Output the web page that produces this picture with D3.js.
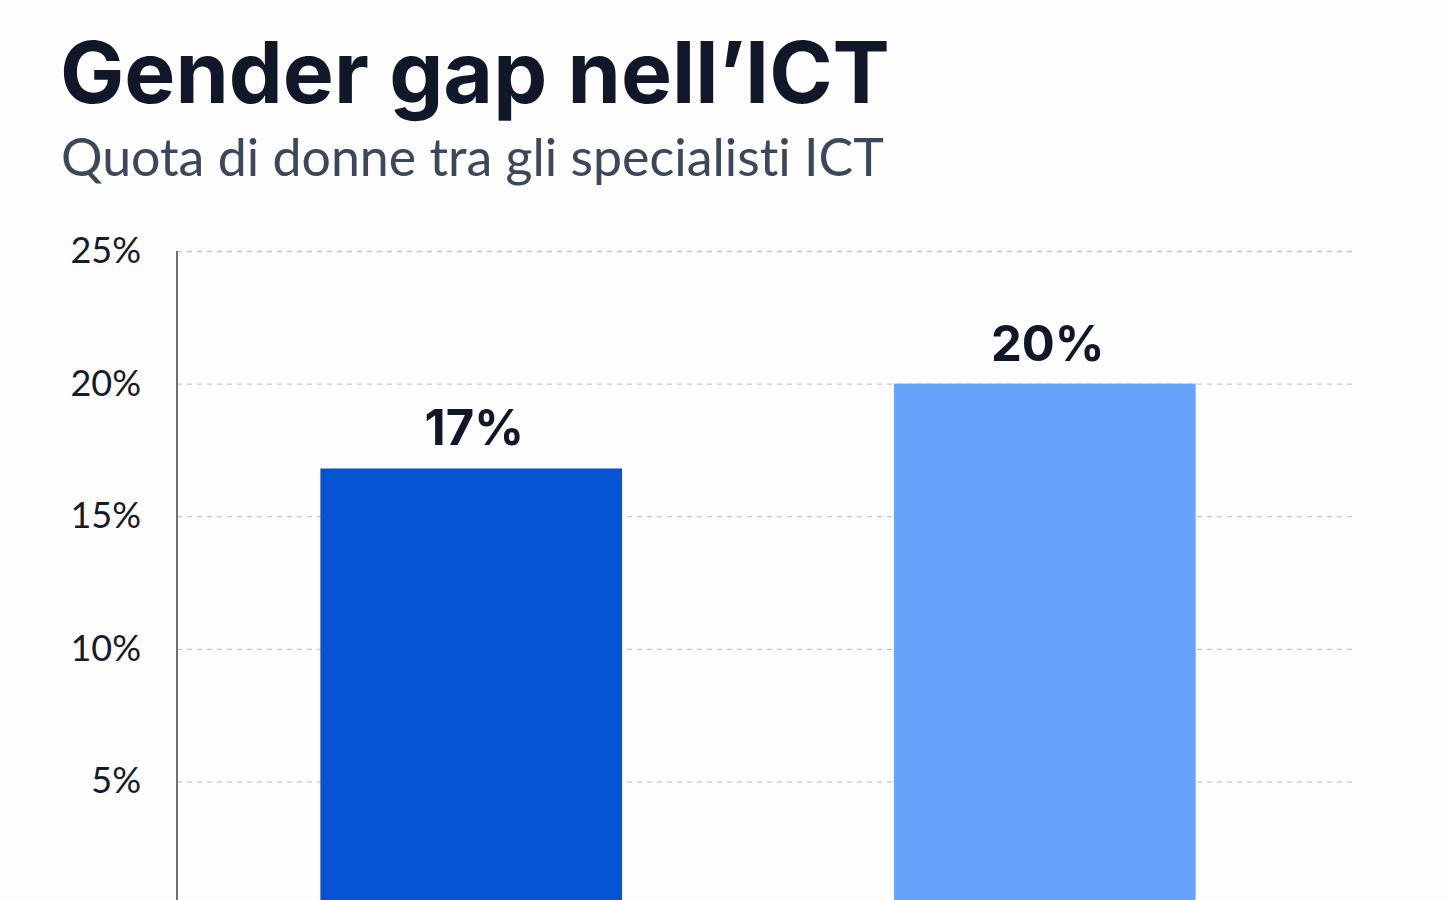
<!DOCTYPE html>
<html lang="it">
<head>
<meta charset="utf-8">
<script src="https://cdn.jsdelivr.net/npm/d3@7"></script>
<style>
  html, body { margin: 0; padding: 0; background: #fdfdfd; }
  svg { display: block; }
  text { font-variant-ligatures: none; font-feature-settings: "liga" 0; }
</style>
</head>
<body>
<svg id="chart"></svg>
<script>
// Dati
const categories = ['A', 'B'];
const values = [16.8, 20];
const valueLabels = ['17%', '20%'];
const barColors = ['#0653d3', '#68a3fb'];
const yTicks = [0, 5, 10, 15, 20, 25];

const W = 1448;
const H = 900;

const svg = d3.select('#chart')
    .attr('width', W)
    .attr('height', H)
    .attr('viewBox', `0 0 ${W} ${H}`);

// Titolo
const title = svg.append('text')
    .attr('x', 60)
    .attr('y', 103)
    .attr('font-family', 'Inter, "Noto Sans", sans-serif')
    .attr('font-weight', 700)
    .attr('font-size', 86)
    .attr('fill', '#0f1729')
    .text('Gender gap nell\u2019ICT');
// adatta la larghezza al riferimento
const tw = title.node().getComputedTextLength();
title.attr('font-size', 86 * 830 / tw);

const sub = svg.append('text')
    .attr('x', 61)
    .attr('y', 176)
    .attr('font-family', 'Lato, "Noto Sans", sans-serif')
    .attr('font-size', 46)
    .attr('fill', '#3b475a')
    .text('Quota di donne tra gli specialisti ICT');
const sw = sub.node().getComputedTextLength();
sub.attr('font-size', 46 * 823 / sw);

// Scale
const left = 177, right = 1357;
const y = d3.scaleLinear().domain([0, 25]).range([914, 251]);
const x = d3.scaleBand()
    .domain(categories)
    .range([left, 1339])
    .paddingInner(0.474)
    .paddingOuter(0.25);

// Griglia
const grid = svg.append('g')
    .attr('transform', `translate(${left},0)`)
    .call(d3.axisLeft(y).tickValues(yTicks).tickSize(-(right - left)).tickFormat(''));
grid.select('.domain').remove();
grid.selectAll('.tick line')
    .attr('stroke', '#c8c8c8')
    .attr('stroke-width', 1.3)
    .attr('stroke-dasharray', '5,5');

// Etichette asse Y
const yAxis = svg.append('g')
    .attr('transform', `translate(141,0)`)
    .call(d3.axisLeft(y).tickValues(yTicks).tickSize(0).tickPadding(0).tickFormat(d => d + '%'));
yAxis.select('.domain').remove();
yAxis.selectAll('text')
    .attr('font-family', 'Lato, "Noto Sans", sans-serif')
    .attr('font-size', 36)
    .attr('fill', '#141b2b');

// Barre
svg.selectAll('.bar')
    .data(values)
    .enter().append('rect')
    .attr('class', 'bar')
    .attr('x', (d, i) => x(categories[i]))
    .attr('width', x.bandwidth())
    .attr('y', d => y(d))
    .attr('height', d => y(0) - y(d))
    .attr('fill', (d, i) => barColors[i]);

// Valori sopra le barre
svg.selectAll('.val')
    .data(values)
    .enter().append('text')
    .attr('class', 'val')
    .attr('x', (d, i) => x(categories[i]) + x.bandwidth() / 2 + 3)
    .attr('y', d => y(d) - 23)
    .attr('text-anchor', 'middle')
    .attr('font-family', 'Inter, "Noto Sans", sans-serif')
    .attr('font-weight', 700)
    .attr('font-size', 49)
    .attr('fill', '#0f1729')
    .text((d, i) => valueLabels[i]);

// Linea asse
svg.append('line')
    .attr('x1', left).attr('x2', left)
    .attr('y1', y(25)).attr('y2', y(0))
    .attr('stroke', '#707070')
    .attr('stroke-width', 2);
</script>
</body>
</html>
